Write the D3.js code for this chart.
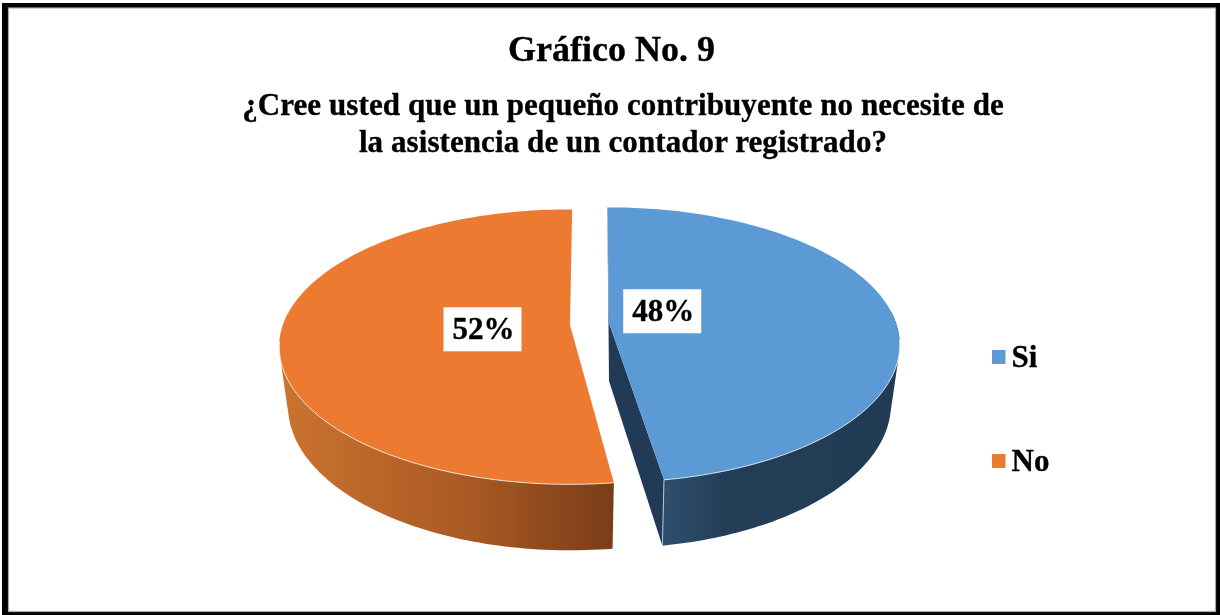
<!DOCTYPE html>
<html><head><meta charset="utf-8">
<script src="https://cdn.jsdelivr.net/npm/d3@7/dist/d3.min.js"></script>
<style>html,body{margin:0;padding:0;background:#fff;overflow:hidden}
svg{display:block;filter:blur(0.35px)}
text{font-family:"Liberation Serif","Times New Roman",serif;font-weight:bold;fill:#000;stroke:#000;stroke-width:0.35px}</style>
</head><body><div id="chart"></div>
<script>
const titleLine = "Gráfico No. 9";
const subtitleLines = ["¿Cree usted que un pequeño contribuyente no necesite de","la asistencia de un contador registrado?"];
const categories = ["Si","No"];
const values = [48,52];
const topColors = ["#5B9AD5","#EC7B31"];

const W=1220,H=615;
const svg=d3.select("#chart").append("svg").attr("width",W).attr("height",H);
svg.append("rect").attr("x",2).attr("y",3).attr("width",W-2).attr("height",H-3).attr("fill","#000");
svg.append("rect").attr("x",8.5).attr("y",8).attr("width",1207).attr("height",603.5).attr("fill","#fff").attr("stroke","#aaa").attr("stroke-width",1.2);

// layout of each exploded slice
const centers=[[609,323],[570,325]];
const trims=[[-0.4,-2.1],[-0.2,0.5]];        // small degree nudges for the 3-D view
const labelPolar=[[64.7,0.208],[264,0.305]];
const gradStops=[[["0","#2f4f6f"],["0.25","#243e58"],["1","#223b54"]],
                 [["0","#cb7330"],["0.55","#ab5a24"],["1","#793d17"]]];
const gradX=[[664,900],[280,615]];
const Rx=287,Ry=134,k=0.159,depth=58,shrinkX=0.97,stretchY=1.05;
const rad=d=>d*Math.PI/180;

function project(c,a,r,down){
  const X=r*Math.sin(a),Y=-r*Math.cos(a),s=1/(1-k*Y);
  return [c[0]+Rx*X*s*(down?shrinkX:1), c[1]+Ry*Y*s*(down?stretchY:1)+(down?depth:0)];
}
const arcs=d3.pie().sort(null).value(d=>d)(values);
const slices=arcs.map((d,i)=>({i,c:centers[i],a0:d.startAngle+rad(trims[i][0]),a1:d.endAngle+rad(trims[i][1]),value:d.value}));
const angles=s=>d3.range(0,161).map(t=>s.a0+(s.a1-s.a0)*t/160);
const line=d3.line();

const defs=svg.append("defs");
slices.forEach(s=>{
  const g=defs.append("linearGradient").attr("id","side"+s.i).attr("gradientUnits","userSpaceOnUse")
    .attr("x1",gradX[s.i][0]).attr("x2",gradX[s.i][1]).attr("y1",0).attr("y2",0);
  gradStops[s.i].forEach(t=>g.append("stop").attr("offset",t[0]).attr("stop-color",t[1]));
});

slices.forEach(s=>{
  const as=angles(s);
  const topArc=as.map(a=>project(s.c,a,1,false));
  const frontAs=as.filter(a=>-Math.cos(a)>-0.1);
  const wall=d3.polygonHull(frontAs.map(a=>project(s.c,a,1,false)).concat(frontAs.map(a=>project(s.c,a,1,true))));
  svg.append("path").attr("d",line(wall)+"Z").attr("fill",`url(#side${s.i})`);
  if(s.i===0){
    const apexT=project(s.c,0,0,false),apexB=project(s.c,0,0,true);
    svg.append("path").attr("d",line([apexT,project(s.c,s.a1,1,false),project(s.c,s.a1,1,true),apexB])+"Z").attr("fill","#213b56");
    svg.append("path").attr("d",line([project(s.c,s.a0,1,false),apexB,apexT])+"Z").attr("fill","#3a5169");
  }
  svg.append("path").attr("d",line([project(s.c,0,0,false)].concat(topArc))+"Z").attr("fill",topColors[s.i]);
  const front=as.filter(a=>-Math.cos(a)>0.12);
  svg.append("path").attr("d",line(front.map(a=>project(s.c,a,1,false)))).attr("fill","none").attr("stroke","#fff").attr("stroke-opacity",0.8).attr("stroke-width",1);
  if(s.i===0) svg.append("path").attr("d",line([project(s.c,s.a1,1,false),project(s.c,s.a1,1,true)])).attr("stroke","#b9c6d3").attr("stroke-width",1).attr("fill","none");
});

// percentage labels
slices.forEach(s=>{
  const p=project(s.c,rad(labelPolar[s.i][0]),labelPolar[s.i][1],false);
  svg.append("rect").attr("x",p[0]-39).attr("y",p[1]-22).attr("width",78).attr("height",44).attr("fill","#fff");
  svg.append("text").attr("x",p[0]+1).attr("y",p[1]+10).attr("text-anchor","middle").attr("font-size",31).text(s.value+"%");
});

// titles
svg.append("text").attr("x",611.5).attr("y",61).attr("text-anchor","middle").attr("font-size",36).text(titleLine);
subtitleLines.forEach((t,i)=>svg.append("text").attr("x",623).attr("y",115+i*37).attr("text-anchor","middle").attr("font-size",31).attr("letter-spacing",0.08).text(t));

// legend
const legendY=d3.scalePoint().domain(categories).range([357,461]);
categories.forEach((c,i)=>{
  svg.append("rect").attr("x",992).attr("y",legendY(c)-7).attr("width",13.5).attr("height",14).attr("fill",topColors[i]);
  svg.append("text").attr("x",1011.5).attr("y",legendY(c)+9.5).attr("font-size",31).text(c);
});
</script></body></html>
